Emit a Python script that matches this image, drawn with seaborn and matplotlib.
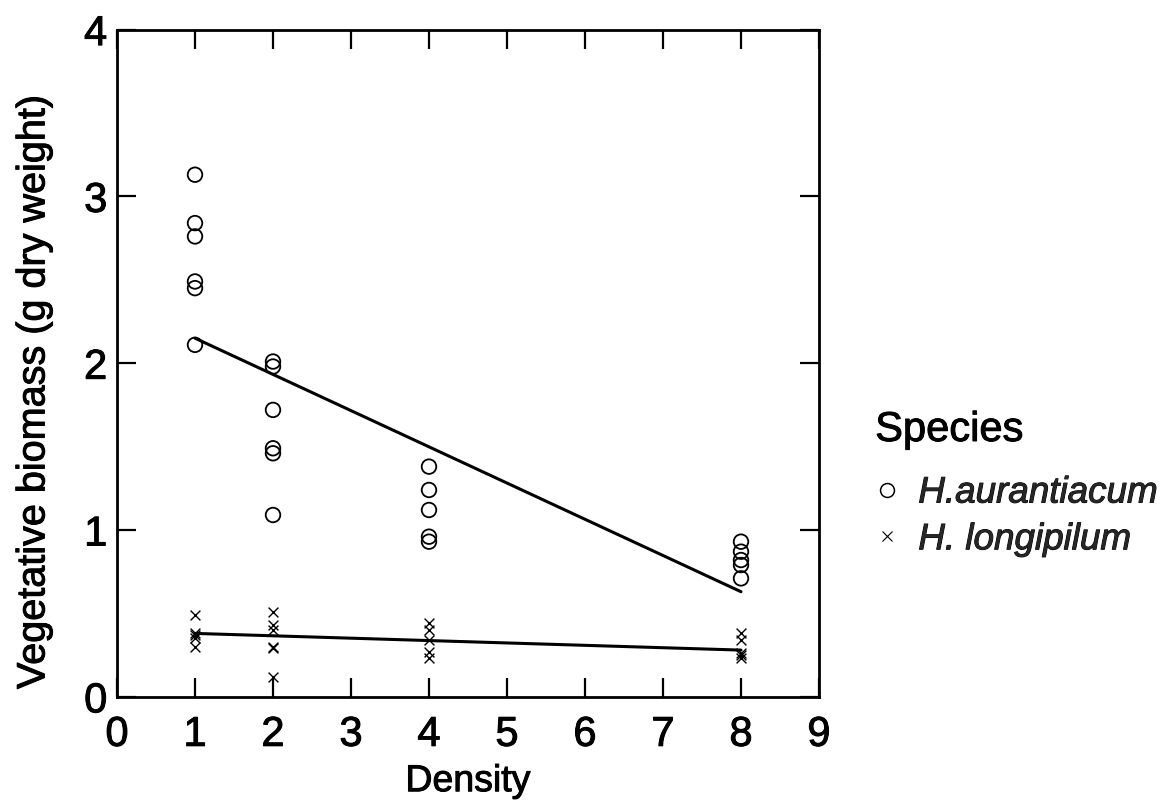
import matplotlib
matplotlib.use("Agg")
import matplotlib.pyplot as plt
from matplotlib.lines import Line2D
import matplotlib.patheffects as pe
import seaborn as sns
import pandas as pd

sns.set_theme(style="ticks")
plt.rcParams["font.family"] = ["Liberation Sans", "DejaVu Sans"]

# Vegetative biomass per pot at each sowing density
aur_density = [1, 1, 1, 1, 1, 1,
               2, 2, 2, 2, 2, 2,
               4, 4, 4, 4, 4,
               8, 8, 8, 8, 8]
aur_biomass = [3.13, 2.84, 2.76, 2.49, 2.45, 2.11,
               2.01, 1.98, 1.72, 1.49, 1.46, 1.09,
               1.38, 1.24, 1.12, 0.96, 0.93,
               0.93, 0.87, 0.82, 0.79, 0.71]

lon_density = [1, 1, 1, 1, 1,
               2, 2, 2, 2, 2, 2,
               4, 4, 4, 4, 4,
               8, 8, 8, 8, 8]
lon_biomass = [0.49, 0.38, 0.37, 0.35, 0.30,
               0.51, 0.43, 0.40, 0.30, 0.29, 0.12,
               0.44, 0.40, 0.34, 0.27, 0.23,
               0.38, 0.34, 0.26, 0.25, 0.23]

# Fitted regression lines (end points)
fit_density = [1, 8]
fit_aur = [2.15, 0.63]
fit_lon = [0.38, 0.28]

species_names = ["H.aurantiacum", "H. longipilum"]

aur = pd.DataFrame({"Density": aur_density, "Biomass": aur_biomass})
lon = pd.DataFrame({"Density": lon_density, "Biomass": lon_biomass})
fits = pd.DataFrame({"Density": fit_density, "aur": fit_aur, "lon": fit_lon})

thick = [pe.withStroke(linewidth=0.7, foreground="black")]

fig = plt.figure(figsize=(11.7, 8), dpi=100)
ax = fig.add_axes([0.100, 0.129, 0.600, 0.834])

sns.scatterplot(data=aur, x="Density", y="Biomass", ax=ax, marker="o",
                s=110, fc="none", ec="black", linewidth=1.3, zorder=3)
sns.scatterplot(data=lon, x="Density", y="Biomass", ax=ax, marker="x",
                s=50, color="black", linewidth=1.0, zorder=3)
sns.lineplot(data=fits, x="Density", y="aur", ax=ax, color="black", lw=2.2)
sns.lineplot(data=fits, x="Density", y="lon", ax=ax, color="black", lw=2.2)

ax.set_xlim(0, 9)
ax.set_ylim(0, 4)
ax.set_xticks(range(0, 10))
ax.set_yticks(range(0, 5))
ax.tick_params(axis="both", which="major", direction="in", length=14,
               width=1.6, color="black", labelsize=30, top=True, right=True,
               labelcolor="black")
ax.tick_params(axis="x", pad=13)
ax.tick_params(axis="y", pad=7)
for lab in ax.get_xticklabels() + ax.get_yticklabels():
    lab.set_path_effects(thick)
for sp in ax.spines.values():
    sp.set_visible(True)
    sp.set_linewidth(2.0)
    sp.set_color("black")

ax.set_xlabel("Density", fontsize=27, color="black", labelpad=6,
              path_effects=thick)
ax.set_ylabel("Vegetative biomass (g dry weight)", fontsize=28.5,
              color="black", path_effects=thick)
ax.yaxis.set_label_coords(-0.092, 0.457)

# Legend: heading and entries placed to the right of the axes
fig.text(0.748, 0.4625, "Species", fontsize=30, color="black",
         ha="left", va="center", path_effects=thick)
handles = [
    Line2D([], [], marker="o", ls="none", mfc="none", mec="black",
           ms=10, mew=1.1),
    Line2D([], [], marker="x", ls="none", color="black", ms=7, mew=0.8),
]
leg = fig.legend(handles, species_names, loc="upper left",
                 bbox_to_anchor=(0.733, 0.424), frameon=False,
                 prop={"size": 26.5, "style": "italic"},
                 handletextpad=0.45, labelspacing=0.32,
                 handlelength=0.8, borderaxespad=0)
for t in leg.get_texts():
    t.set_path_effects(thick)

fig.savefig("out.png", dpi=100, facecolor="white")
